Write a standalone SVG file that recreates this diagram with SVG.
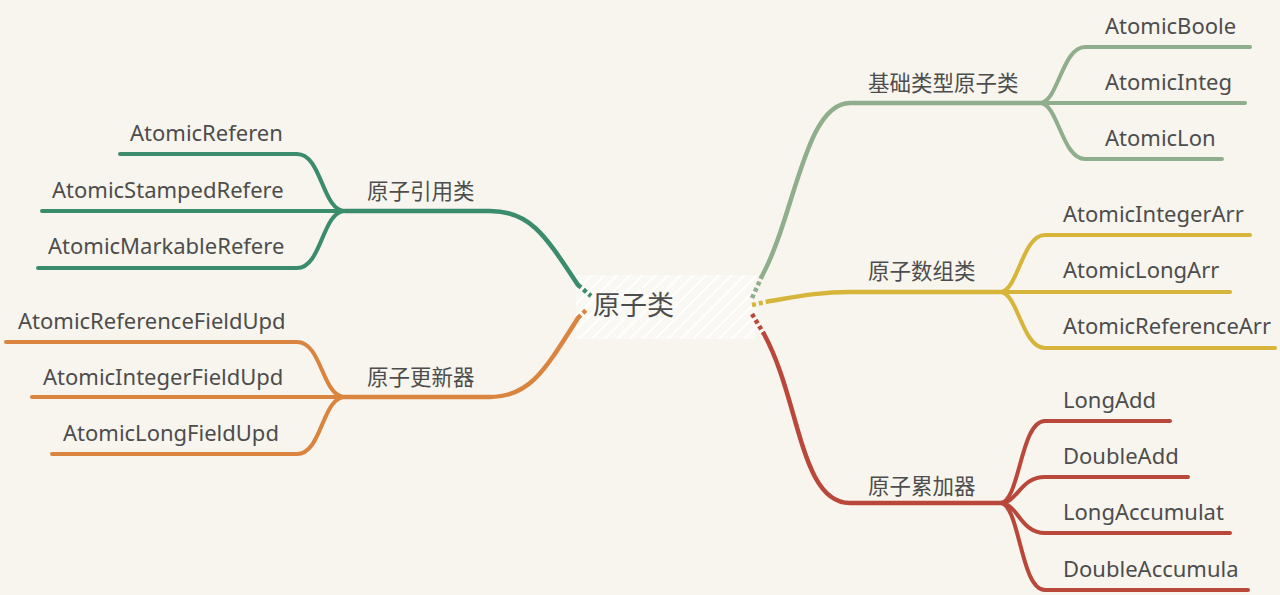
<svg xmlns="http://www.w3.org/2000/svg" width="1280" height="595" viewBox="0 0 1280 595">
<defs>
<style>
.bg{fill:#f8f5ee}
.t{font-family:"Noto Sans","Open Sans","Liberation Sans",sans-serif;font-size:22px;fill:#4d4d4d}
.c{font-family:"Noto Sans CJK SC","Noto Sans",sans-serif;font-size:21.5px;fill:#4d4d4d}
.root{font-family:"Noto Sans CJK SC","Noto Sans",sans-serif;font-size:27px;fill:#4d4d4d}
.l{fill:none;stroke-linecap:round;stroke-linejoin:round;stroke-width:4}
.m{stroke-width:4.5}
.d{stroke-dasharray:4 3;stroke-linecap:butt}
.gg{stroke:#8fae8c}
.yy{stroke:#d6b53a}
.rr{stroke:#b9473a}
.gn{stroke:#3b8c6c}
.or{stroke:#d9843f}
</style>
<pattern id="hatch" patternUnits="userSpaceOnUse" width="9" height="9" patternTransform="rotate(45)">
<rect width="9" height="9" fill="#faf8f3"/>
<line x1="0" y1="0" x2="0" y2="9" stroke="#ffffff" stroke-width="4"/>
</pattern>
</defs>
<rect class="bg" x="0" y="0" width="1280" height="595"/>

<g id="root">
<rect x="576" y="275" width="180" height="64" fill="url(#hatch)"/>
<text class="root" x="593" y="315">原子类</text>
</g>

<g id="connectors">
<!-- dashed stubs inside the root -->
<path class="l m d gg" d="M 752 298 L 762 276"/>
<path class="l m d yy" d="M 752 305 L 770 301"/>
<path class="l m d rr" d="M 752 314 L 764 334"/>
<path class="l m d gn" d="M 578 285 L 591 296"/>
<path class="l m d or" d="M 578 318 L 586 310"/>
<!-- main branches -->
<path class="l m gg" d="M 762 276 C 795 215, 805 103, 850 103 L 1040 103"/>
<path class="l m yy" d="M 770 301 C 800 296, 820 292, 850 292 L 1000 292"/>
<path class="l m rr" d="M 764 334 C 800 400, 800 503, 850 503 L 1000 503"/>
<path class="l m gn" d="M 578 285 C 545 235, 530 211, 490 211 L 345 211"/>
<path class="l m or" d="M 578 318 C 545 370, 530 397, 490 397 L 345 397"/>
<!-- gray-green children -->
<path class="l gg" d="M 1040 103 C 1058 103, 1062 47, 1085 47 L 1250 47"/>
<path class="l gg" d="M 1040 103 L 1245 103"/>
<path class="l gg" d="M 1040 103 C 1058 103, 1062 159, 1085 159 L 1222 159"/>
<!-- yellow children -->
<path class="l yy" d="M 1000 292 C 1018 292, 1022 235, 1045 235 L 1250 235"/>
<path class="l yy" d="M 1000 292 L 1230 292"/>
<path class="l yy" d="M 1000 292 C 1018 292, 1022 348, 1045 348 L 1275 348"/>
<!-- red children -->
<path class="l rr" d="M 1000 503 C 1020 503, 1020 421, 1045 421 L 1170 421"/>
<path class="l rr" d="M 1000 503 C 1018 503, 1020 477, 1045 477 L 1188 477"/>
<path class="l rr" d="M 1000 503 C 1018 503, 1020 533, 1045 533 L 1230 533"/>
<path class="l rr" d="M 1000 503 C 1020 503, 1020 590, 1045 590 L 1248 590"/>
<!-- green children -->
<path class="l gn" d="M 345 211 C 322 211, 322 154, 297 154 L 120 154"/>
<path class="l gn" d="M 345 211 L 42 211"/>
<path class="l gn" d="M 345 211 C 322 211, 322 268, 297 268 L 38 268"/>
<!-- orange children -->
<path class="l or" d="M 345 397 C 322 397, 322 342, 297 342 L 6 342"/>
<path class="l or" d="M 345 397 L 32 397"/>
<path class="l or" d="M 345 397 C 322 397, 322 454, 297 454 L 52 454"/>
</g>

<g id="n-basic"><text class="c" x="868" y="91">基础类型原子类</text></g>
<g id="n-boolean"><text class="t" x="1105" y="34">AtomicBoole</text></g>
<g id="n-integer"><text class="t" x="1105" y="90">AtomicInteg</text></g>
<g id="n-long"><text class="t" x="1105" y="146">AtomicLon</text></g>

<g id="n-array"><text class="c" x="868" y="279">原子数组类</text></g>
<g id="n-intarr"><text class="t" x="1063" y="222">AtomicIntegerArr</text></g>
<g id="n-longarr"><text class="t" x="1063" y="278">AtomicLongArr</text></g>
<g id="n-refarr"><text class="t" x="1063" y="334">AtomicReferenceArr</text></g>

<g id="n-adder"><text class="c" x="868" y="494">原子累加器</text></g>
<g id="n-longadd"><text class="t" x="1063" y="408">LongAdd</text></g>
<g id="n-doubleadd"><text class="t" x="1063" y="464">DoubleAdd</text></g>
<g id="n-longacc"><text class="t" x="1063" y="520">LongAccumulat</text></g>
<g id="n-doubleacc"><text class="t" x="1063" y="577">DoubleAccumula</text></g>

<g id="n-ref"><text class="c" x="367" y="199">原子引用类</text></g>
<g id="n-atomicref"><text class="t" x="130" y="141">AtomicReferen</text></g>
<g id="n-stamped"><text class="t" x="52" y="198">AtomicStampedRefere</text></g>
<g id="n-markable"><text class="t" x="48" y="254">AtomicMarkableRefere</text></g>

<g id="n-updater"><text class="c" x="367" y="385">原子更新器</text></g>
<g id="n-reffield"><text class="t" x="18" y="329">AtomicReferenceFieldUpd</text></g>
<g id="n-intfield"><text class="t" x="43" y="385">AtomicIntegerFieldUpd</text></g>
<g id="n-longfield"><text class="t" x="63" y="441">AtomicLongFieldUpd</text></g>
</svg>
